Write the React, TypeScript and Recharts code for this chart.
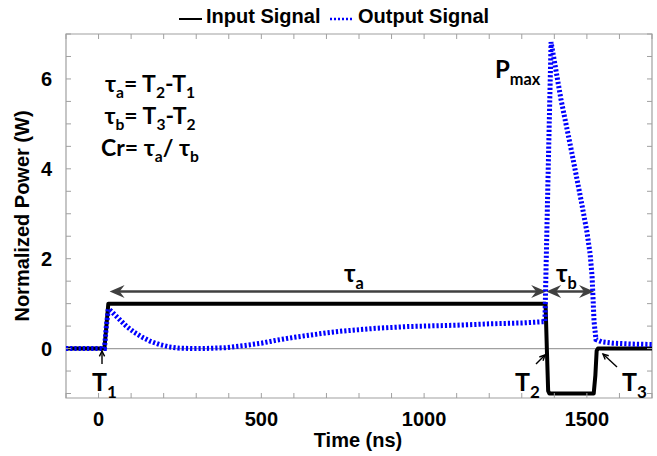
import { LineChart, Line, XAxis, YAxis, ReferenceLine, ReferenceArea } from "recharts";

// input pulse (black)
const inputTime = [-100, 18, 30, 1373, 1377, 1381, 1385, 1521, 1526, 1530, 1534, 1700];
const inputPower = [0, 0, 1, 1, 0, -0.94, -1, -1, -0.6, -0.05, 0, 0];

// output pulse (blue dotted)
const outputTime = [
  -100, 18, 24, 30, 36, 60, 85, 110, 135, 160, 187, 215, 245, 290, 340, 390, 450, 500, 550, 600,
  650, 700, 750, 800, 850, 900, 950, 1000, 1100, 1200, 1300, 1371, 1380, 1390, 1400, 1420, 1452,
  1483, 1500, 1510, 1516, 1522, 1528, 1545, 1580, 1640, 1700,
];
const outputPower = [
  0, 0, 0.5, 0.88, 0.85, 0.68, 0.5, 0.36, 0.25, 0.16, 0.09, 0.04, 0.01, 0, 0.005, 0.02, 0.07, 0.12,
  0.19, 0.25, 0.3, 0.35, 0.39, 0.42, 0.45, 0.47, 0.49, 0.5, 0.52, 0.55, 0.57, 0.6, 3.6, 6.82, 6.4,
  5.56, 4.42, 3.27, 2.6, 2.1, 1.6, 0.6, 0.2, 0.15, 0.12, 0.1, 0.09,
];

const xTicks = [-100, 0, 100, 200, 300, 400, 500, 600, 700, 800, 900, 1000, 1100, 1200, 1300, 1400, 1500, 1600, 1700];
const xLabels = [0, 500, 1000, 1500];
const yTicks = [-1, -0.5, 0, 0.5, 1, 1.5, 2, 2.5, 3, 3.5, 4, 4.5, 5, 5.5, 6, 6.5, 7];
const yLabels = [0, 2, 4, 6];

// tau arrows (time span, height)
const tauA = [34, 1375];
const tauB = [1375, 1522];
const tauY = 1.27;

const inputData = inputTime.map((x, i) => ({ x, y: inputPower[i] }));
const outputData = outputTime.map((x, i) => ({ x, y: outputPower[i] }));

const PLOT = { left: 66, right: 652, top: 34, bottom: 398 };
const AXIS_FONT = "'Liberation Sans', Arial, sans-serif";
const NOTE_FONT = "Lato, 'Open Sans', sans-serif";
const FRAME = "#a0a0a0";

const XTick = ({ x, payload }: any) => {
  const v = payload.value;
  return (
    <g>
      <line x1={x} x2={x} y1={PLOT.bottom} y2={PLOT.bottom - 5} stroke={FRAME} />
      <line x1={x} x2={x} y1={PLOT.top} y2={PLOT.top + 5} stroke={FRAME} />
      {xLabels.includes(v) && (
        <text x={x} y={PLOT.bottom + 28} textAnchor="middle" fontFamily={AXIS_FONT} fontWeight="bold" fontSize={20} fill="#000">
          {v}
        </text>
      )}
    </g>
  );
};

const YTick = ({ y, payload }: any) => {
  const v = payload.value;
  return (
    <g>
      <line x1={PLOT.left} x2={PLOT.left + 5} y1={y} y2={y} stroke={FRAME} />
      <line x1={PLOT.right} x2={PLOT.right - 5} y1={y} y2={y} stroke={FRAME} />
      {yLabels.includes(v) && (
        <text x={PLOT.left - 14} y={y + 7} textAnchor="end" fontFamily={AXIS_FONT} fontWeight="bold" fontSize={20} fill="#000">
          {v}
        </text>
      )}
    </g>
  );
};

// double headed arrow like matlab's vback2
const DoubleArrow = (props: any) => {
  const { x1, y1, x2, y2 } = props;
  const len = 15;
  const hw = 6.5;
  const notch = 5;
  const head = (tx: number, dir: number) => {
    const bx = tx + dir * len;
    return `${tx},${y1} ${bx},${y1 - hw} ${tx + dir * (len - notch)},${y1} ${bx},${y1 + hw}`;
  };
  return (
    <g>
      <line x1={x1 + 6} y1={y1} x2={x2 - 6} y2={y2} stroke="#404040" strokeWidth={2.5} />
      <polygon points={head(x1, 1)} fill="#404040" />
      <polygon points={head(x2, -1)} fill="#404040" />
    </g>
  );
};

const SmallArrow = ({ x1, y1, x2, y2 }: { x1: number; y1: number; x2: number; y2: number }) => {
  const a = Math.atan2(y2 - y1, x2 - x1);
  const l = 6;
  const p1 = [x2 - l * Math.cos(a - 0.45), y2 - l * Math.sin(a - 0.45)];
  const p2 = [x2 - l * Math.cos(a + 0.45), y2 - l * Math.sin(a + 0.45)];
  return (
    <g stroke="#000" strokeWidth={1.4} fill="none">
      <line x1={x1} y1={y1} x2={x2} y2={y2} />
      <polyline points={`${p1[0]},${p1[1]} ${x2},${y2} ${p2[0]},${p2[1]}`} />
    </g>
  );
};

// text with subscript
const Sub = ({ x, y, parts, size = 21, anchor = "start" }: any) => (
  <text x={x} y={y} fontFamily={NOTE_FONT} fontWeight="bold" fontSize={size} fill="#000" textAnchor={anchor}>
    {parts.map((p: string, i: number) =>
      i % 2 === 1 ? (
        <tspan key={i} fontSize={size * 0.68} dy={size * 0.28}>
          {p}
        </tspan>
      ) : (
        <tspan key={i} dy={i === 0 ? 0 : -size * 0.28}>
          {p}
        </tspan>
      )
    )}
  </text>
);

export default function App() {
  return (
    <div style={{ position: "absolute", left: 0, top: 0, width: 657, height: 456, background: "#fff" }}>
      <LineChart width={657} height={456} margin={{ top: 34, right: 5, bottom: 0, left: 0 }}>
        <XAxis
          type="number"
          dataKey="x"
          domain={[-100, 1700]}
          ticks={xTicks}
          interval={0}
          allowDataOverflow
          height={58}
          axisLine={false}
          tickLine={false}
          tick={<XTick />}
        />
        <YAxis
          type="number"
          dataKey="y"
          domain={[-1.1, 7]}
          ticks={yTicks}
          interval={0}
          allowDataOverflow
          width={66}
          axisLine={false}
          tickLine={false}
          tick={<YTick />}
        />
        <ReferenceArea x1={-100} x2={1700} y1={-1.1} y2={7} fill="none" stroke={FRAME} strokeWidth={1.2} />
        <ReferenceLine y={0} stroke={FRAME} strokeWidth={1.2} />
        <ReferenceLine segment={[{ x: tauA[0], y: tauY }, { x: tauA[1], y: tauY }]} shape={DoubleArrow} />
        <ReferenceLine segment={[{ x: tauB[0], y: tauY }, { x: tauB[1], y: tauY }]} shape={DoubleArrow} />
        <Line
          data={inputData}
          dataKey="y"
          type="linear"
          stroke="#000"
          strokeWidth={4}
          strokeLinejoin="round"
          dot={false}
          isAnimationActive={false}
        />
        <Line
          data={outputData}
          dataKey="y"
          type="linear"
          stroke="#0000ff"
          strokeWidth={5}
          strokeDasharray="2.2 2"
          dot={false}
          isAnimationActive={false}
        />
      </LineChart>
      <svg width={657} height={456} style={{ position: "absolute", left: 0, top: 0, pointerEvents: "none" }}>
        {/* legend */}
        <line x1={179} x2={202} y1={19} y2={19} stroke="#000" strokeWidth={2} />
        <text x={206} y={23} fontFamily={AXIS_FONT} fontWeight="bold" fontSize={20} fill="#000">
          Input Signal
        </text>
        <line x1={330} x2={354} y1={19} y2={19} stroke="#0000ff" strokeWidth={2.5} strokeDasharray="2 2" />
        <text x={358} y={23} fontFamily={AXIS_FONT} fontWeight="bold" fontSize={20} fill="#000">
          Output Signal
        </text>
        {/* axis titles */}
        <text x={358} y={447} textAnchor="middle" fontFamily={AXIS_FONT} fontWeight="bold" fontSize={20} fill="#000">
          Time (ns)
        </text>
        <text
          transform="translate(29,216) rotate(-90)"
          textAnchor="middle"
          fontFamily={AXIS_FONT}
          fontWeight="bold"
          fontSize={20}
          fill="#000"
        >
          Normalized Power (W)
        </text>
        {/* formulas */}
        <Sub x={150} y={92} size={23} anchor="middle" parts={["τ", "a", "= T", "2", "-T", "1"]} />
        <Sub x={150} y={124} size={23} anchor="middle" parts={["τ", "b", "= T", "3", "-T", "2"]} />
        <Sub x={150} y={156} size={23} anchor="middle" parts={["Cr= τ", "a", "/ τ", "b"]} />
        {/* labels */}
        <Sub x={495} y={78} size={24} parts={["P", "max"]} />
        <Sub x={344} y={282} size={24} parts={["τ", "a"]} />
        <Sub x={556} y={282} size={24} parts={["τ", "b"]} />
        <Sub x={92} y={391} size={25} parts={["T", "1"]} />
        <Sub x={515} y={391} size={25} parts={["T", "2"]} />
        <Sub x={622} y={391} size={25} parts={["T", "3"]} />
        <SmallArrow x1={102} y1={364} x2={102} y2={351} />
        <SmallArrow x1={536} y1={364} x2={545} y2={355} />
        <SmallArrow x1={617} y1={367} x2={603} y2={354} />
      </svg>
    </div>
  );
}
